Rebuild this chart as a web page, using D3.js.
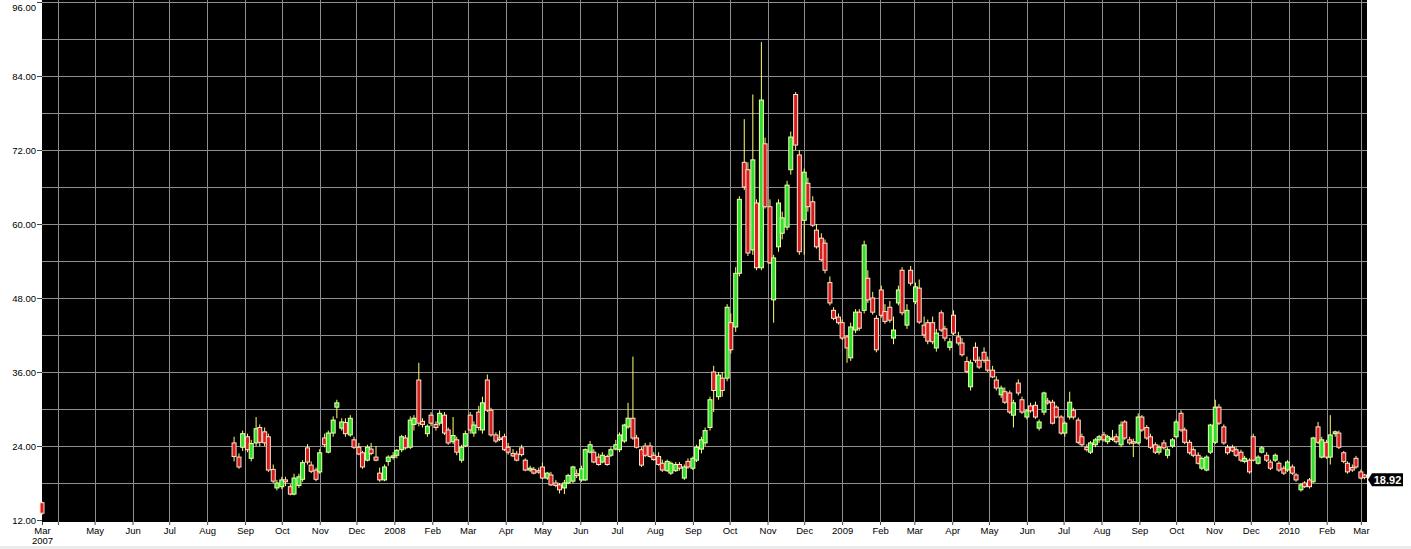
<!DOCTYPE html>
<html><head><meta charset="utf-8">
<script src="https://cdn.jsdelivr.net/npm/d3@7"></script>
<style>html,body{margin:0;padding:0;background:#fff;overflow:hidden}</style>
</head><body><svg id="chart" width="1411" height="549"></svg>
<script>
// ---------- DATA ----------
const axisStart = "2007-03-19";
const axisEnd = "2010-03-06";
const dates = [
"2007-03-19",
"2007-08-23","2007-08-27","2007-08-30",
"2007-09-03","2007-09-06","2007-09-10","2007-09-13","2007-09-17","2007-09-20","2007-09-24","2007-09-27",
"2007-10-01","2007-10-04","2007-10-08","2007-10-11","2007-10-15","2007-10-18","2007-10-22","2007-10-25","2007-10-29",
"2007-11-01","2007-11-05","2007-11-08","2007-11-12","2007-11-15","2007-11-19","2007-11-22","2007-11-26","2007-11-29",
"2007-12-03","2007-12-06","2007-12-10","2007-12-13","2007-12-17","2007-12-20","2007-12-24","2007-12-27","2007-12-31",
"2008-01-03","2008-01-07","2008-01-10","2008-01-14","2008-01-17","2008-01-21","2008-01-24","2008-01-28","2008-01-31",
"2008-02-04","2008-02-07","2008-02-11","2008-02-14","2008-02-18","2008-02-21","2008-02-25","2008-02-28",
"2008-03-03","2008-03-06","2008-03-10","2008-03-13","2008-03-17","2008-03-20","2008-03-24","2008-03-27","2008-03-31",
"2008-04-03","2008-04-07","2008-04-10","2008-04-14","2008-04-17","2008-04-21","2008-04-24","2008-04-28",
"2008-05-01","2008-05-05","2008-05-08","2008-05-12","2008-05-15","2008-05-19","2008-05-22","2008-05-26","2008-05-29",
"2008-06-02","2008-06-05","2008-06-09","2008-06-12","2008-06-16","2008-06-19","2008-06-23","2008-06-26","2008-06-30",
"2008-07-03","2008-07-07","2008-07-10","2008-07-14","2008-07-17","2008-07-21","2008-07-24","2008-07-28","2008-07-31",
"2008-08-04","2008-08-07","2008-08-11","2008-08-14","2008-08-18","2008-08-21","2008-08-25","2008-08-28",
"2008-09-01","2008-09-04","2008-09-08","2008-09-11","2008-09-15","2008-09-18","2008-09-22","2008-09-25","2008-09-29",
"2008-10-02","2008-10-06","2008-10-09","2008-10-13","2008-10-16","2008-10-20","2008-10-23","2008-10-27","2008-10-30",
"2008-11-03","2008-11-06","2008-11-10","2008-11-13","2008-11-17","2008-11-20","2008-11-24","2008-11-27",
"2008-12-01","2008-12-04","2008-12-08","2008-12-11","2008-12-15","2008-12-18","2008-12-22","2008-12-25","2008-12-29",
"2009-01-01","2009-01-05","2009-01-08","2009-01-12","2009-01-15","2009-01-19","2009-01-22","2009-01-26","2009-01-29",
"2009-02-02","2009-02-05","2009-02-09","2009-02-12","2009-02-16","2009-02-19","2009-02-23","2009-02-26",
"2009-03-02","2009-03-05","2009-03-09","2009-03-12","2009-03-16","2009-03-19","2009-03-23","2009-03-26","2009-03-30",
"2009-04-02","2009-04-06","2009-04-09","2009-04-13","2009-04-16","2009-04-20","2009-04-23","2009-04-27","2009-04-30",
"2009-05-04","2009-05-07","2009-05-11","2009-05-14","2009-05-18","2009-05-21","2009-05-25","2009-05-28",
"2009-06-01","2009-06-04","2009-06-08","2009-06-11","2009-06-15","2009-06-18","2009-06-22","2009-06-25","2009-06-29",
"2009-07-02","2009-07-06","2009-07-09","2009-07-13","2009-07-16","2009-07-20","2009-07-23","2009-07-27","2009-07-30",
"2009-08-03","2009-08-06","2009-08-10","2009-08-13","2009-08-17","2009-08-20","2009-08-24","2009-08-27","2009-08-31",
"2009-09-03","2009-09-07","2009-09-10","2009-09-14","2009-09-17","2009-09-21","2009-09-24","2009-09-28",
"2009-10-01","2009-10-05","2009-10-08","2009-10-12","2009-10-15","2009-10-19","2009-10-22","2009-10-26","2009-10-29",
"2009-11-02","2009-11-05","2009-11-09","2009-11-12","2009-11-16","2009-11-19","2009-11-23","2009-11-26","2009-11-30",
"2009-12-03","2009-12-07","2009-12-10","2009-12-14","2009-12-17","2009-12-21","2009-12-24","2009-12-28","2009-12-31",
"2010-01-04","2010-01-07","2010-01-11","2010-01-14","2010-01-18","2010-01-21","2010-01-25","2010-01-28",
"2010-02-01","2010-02-04","2010-02-08","2010-02-11","2010-02-15","2010-02-18","2010-02-22","2010-02-25",
"2010-03-01","2010-03-04"
];
const opens = [
14.8,
24.5,22.2,23.8,
25.5,22.0,24.5,27.0,26.3,25.5,20.2,17.2,
17.4,18.5,17.4,16.2,17.6,18.6,23.7,20.9,20.1,
19.8,25.3,23.0,26.1,30.3,26.9,27.8,25.8,25.0,
23.8,22.9,21.7,23.5,22.2,19.6,18.5,21.5,22.3,
22.5,23.4,25.3,23.8,27.5,34.7,28.0,26.0,29.0,
27.5,27.7,29.0,26.6,24.7,25.0,21.7,24.0,
29.0,26.1,29.5,26.6,34.7,29.8,25.8,25.3,25.5,
23.8,22.8,22.7,23.7,21.7,20.1,20.2,20.0,
20.6,18.8,19.3,18.0,17.7,17.2,18.0,18.3,19.5,
18.5,18.5,23.0,23.0,22.2,21.4,22.3,22.5,23.5,
23.4,24.8,27.1,28.5,25.3,23.4,24.0,24.0,22.5,
22.3,21.2,20.0,19.6,20.0,21.0,18.8,21.5,
20.4,21.7,23.5,24.5,27.0,36.0,32.0,35.0,35.0,
44.0,43.3,52.0,70.0,68.8,55.8,63.4,52.9,73.0,
62.8,47.7,56.3,58.5,59.5,68.8,81.0,71.2,
60.6,66.6,63.6,59.0,57.7,56.9,50.5,46.0,44.9,
44.0,41.7,38.3,42.8,45.7,46.0,51.2,48.0,44.7,
49.3,45.8,46.5,41.5,47.2,52.5,43.6,52.5,
47.4,49.6,43.6,44.0,44.0,39.9,45.6,43.0,40.0,
45.2,41.7,40.7,37.7,33.6,40.0,37.9,39.2,37.9,
36.3,34.7,32.3,32.8,32.6,29.0,34.2,31.5,
28.7,30.5,30.6,26.9,29.5,31.3,31.1,30.3,28.7,
26.1,28.7,29.8,28.2,25.5,23.8,23.0,24.2,25.0,
25.8,24.7,25.1,25.5,24.2,27.9,25.0,24.7,24.5,
28.7,27.0,25.5,24.2,23.0,24.5,22.5,24.0,
25.5,29.3,26.6,24.6,23.4,22.5,20.4,20.1,23.0,
24.6,30.3,27.1,23.8,23.8,23.4,23.0,21.5,21.7,
25.5,21.2,23.0,22.5,21.4,21.7,21.2,20.4,20.1,
20.6,19.3,16.9,18.0,18.5,18.2,27.1,22.2,
24.6,22.2,26.0,26.1,22.9,21.2,20.5,22.0,
19.8,19.3
];
const highs = [
15.0,
25.5,22.8,26.5,
26.0,25.0,28.7,27.5,27.0,26.0,21.0,18.5,
19.0,19.0,17.8,19.5,19.5,21.7,24.3,21.5,20.5,
23.5,26.0,26.5,28.8,31.5,28.5,28.5,29.0,25.5,
24.5,23.2,24.2,24.5,24.0,20.5,21.0,22.5,23.0,
23.5,25.8,25.8,28.8,29.0,37.5,28.5,27.5,29.5,
28.0,29.8,29.5,27.0,28.7,25.5,24.2,26.5,
29.5,28.0,30.5,32.0,35.6,30.2,26.2,26.5,26.0,
24.5,23.5,23.2,24.2,22.0,20.8,20.6,20.5,
21.3,19.8,19.8,18.5,18.0,18.5,19.5,20.8,20.2,
20.8,23.6,24.8,23.5,22.8,23.0,22.6,23.8,25.0,
26.2,27.6,31.0,38.5,25.8,23.8,24.5,24.6,23.0,
23.0,21.8,21.8,21.5,21.4,21.4,21.0,22.0,
22.3,24.2,25.5,27.0,32.0,37.0,36.0,36.0,47.0,
45.5,53.0,64.5,77.0,70.0,81.0,64.0,89.5,74.0,
64.0,55.0,64.0,62.0,67.0,75.0,81.4,72.0,
69.0,67.5,64.5,60.0,58.5,57.5,51.5,46.5,45.5,
44.5,42.0,44.0,46.2,46.2,57.3,52.5,49.0,45.2,
50.0,47.0,47.5,45.0,50.0,53.0,47.0,53.2,
50.5,51.0,45.0,44.5,45.0,43.0,46.0,43.5,41.5,
46.0,42.5,41.5,38.5,38.0,40.8,38.5,40.0,38.5,
37.0,35.3,33.8,33.5,33.0,31.5,34.8,32.0,
30.0,31.0,31.2,28.3,32.8,31.8,31.5,30.6,29.0,
28.0,32.8,30.2,28.6,26.0,24.3,24.8,25.3,25.8,
26.3,25.8,26.6,26.0,28.0,28.2,25.5,25.2,29.3,
29.0,27.4,26.0,24.6,24.2,25.0,23.8,25.3,
28.3,29.8,27.0,25.0,23.8,23.0,22.3,22.5,27.6,
31.5,30.8,27.5,24.2,24.2,23.8,23.4,22.4,22.0,
26.0,22.5,24.0,23.0,21.8,22.8,21.5,20.8,21.7,
21.0,19.6,18.0,18.3,18.8,25.5,27.9,25.5,
25.0,29.0,26.5,26.5,23.2,21.5,21.0,22.4,
20.2,19.5
];
const lows = [
12.8,
21.5,20.3,23.2,
23.0,21.5,24.0,24.0,24.0,19.8,18.0,16.8,
17.0,17.5,16.0,16.0,17.2,18.2,21.0,19.6,18.3,
19.5,23.8,22.8,25.5,28.5,26.5,25.5,25.5,23.5,
22.5,20.3,21.5,22.5,21.5,18.2,18.3,20.8,21.8,
22.0,23.0,23.4,23.5,26.5,27.2,27.0,25.5,27.2,
26.5,27.3,25.8,24.2,24.3,22.5,21.3,23.8,
26.0,25.5,26.5,26.0,29.5,25.5,24.5,24.8,23.2,
22.6,22.2,21.5,22.3,19.9,19.8,19.4,19.5,
18.6,18.5,17.5,17.3,16.3,16.2,17.8,18.0,18.8,
18.2,18.3,22.8,21.2,20.8,21.2,20.8,22.2,23.3,
23.0,24.5,26.8,25.0,23.6,20.6,22.2,22.1,21.6,
20.8,19.8,19.8,19.3,19.8,20.0,18.5,20.3,
20.1,21.4,22.8,24.0,26.5,29.5,31.5,32.0,34.5,
39.0,42.5,51.5,65.5,54.8,55.0,52.5,52.5,62.5,
53.5,44.0,55.5,57.5,59.0,68.0,72.0,55.0,
55.0,62.0,59.5,56.0,54.0,52.0,46.8,44.4,43.7,
41.2,37.5,37.8,42.3,42.7,45.5,47.2,45.3,39.2,
44.8,43.8,44.0,40.5,46.8,45.2,43.0,50.0,
47.0,43.8,41.5,40.5,40.5,39.3,42.5,41.0,39.5,
42.0,40.3,38.5,35.8,33.0,37.5,36.5,37.5,36.0,
35.0,33.0,31.8,30.8,29.2,27.0,32.2,29.2,
28.3,29.4,28.4,26.5,29.0,30.7,27.5,28.5,25.8,
25.5,28.3,28.3,24.3,23.9,23.1,22.7,23.8,24.5,
24.7,24.3,24.8,24.4,23.8,25.0,24.2,22.2,24.2,
26.3,25.0,23.5,22.7,22.6,23.4,22.0,23.7,
25.2,26.3,24.3,22.6,22.2,21.0,20.1,19.9,22.7,
24.3,27.4,24.2,22.6,23.0,22.2,21.4,21.2,19.5,
21.5,21.0,22.8,21.4,20.1,21.4,19.8,19.3,19.8,
19.3,18.2,16.6,17.2,17.1,18.0,24.3,22.0,
21.9,21.0,25.5,23.5,21.2,19.5,19.8,20.3,
18.6,18.6
];
const closes = [
13.1,
22.3,20.6,26.0,
23.4,24.4,26.8,24.6,24.5,20.1,18.3,18.0,
18.5,18.2,16.2,18.8,19.0,21.3,21.4,19.9,18.6,
22.9,24.2,26.1,28.2,31.0,27.9,26.0,28.5,23.8,
22.7,20.6,23.8,22.8,21.7,18.5,20.6,22.2,22.4,
23.3,25.5,23.7,28.2,28.5,27.7,27.5,27.2,27.7,
27.0,29.3,26.1,24.5,25.7,23.0,23.8,26.0,
26.6,27.4,27.0,31.0,29.8,25.8,24.8,25.1,23.4,
23.0,22.4,21.7,22.6,20.1,20.4,19.6,19.8,
18.8,19.6,17.7,17.6,16.9,18.0,19.2,20.6,19.2,
20.3,23.4,24.2,21.4,21.0,22.5,21.0,23.4,24.2,
25.8,27.4,28.5,25.3,23.8,20.9,22.5,22.3,21.8,
21.0,20.1,21.5,21.2,21.0,20.4,20.6,20.6,
22.0,23.8,25.0,26.5,31.5,33.0,35.5,33.0,46.5,
39.6,52.0,64.0,66.0,55.3,70.4,52.9,80.1,62.8,
53.7,54.5,63.4,61.0,66.3,74.1,72.8,55.5,
68.4,62.8,59.8,56.3,54.2,52.5,47.2,44.7,44.0,
41.5,39.9,43.3,45.7,43.1,56.6,47.7,45.7,39.6,
45.2,44.2,44.4,42.8,49.3,45.6,46.0,50.4,
49.8,44.1,42.0,41.0,40.9,42.3,42.8,41.5,40.9,
42.3,40.7,38.8,36.1,37.5,37.9,36.8,37.9,36.3,
35.2,33.4,33.4,31.1,29.5,31.0,32.6,29.5,
29.7,29.7,28.7,27.9,32.6,31.0,27.7,28.7,26.1,
27.7,31.1,28.7,24.6,24.2,23.4,24.5,25.0,25.5,
25.0,25.5,25.3,24.7,27.4,25.3,24.5,24.5,28.7,
26.6,25.3,23.8,23.0,23.8,23.7,23.4,25.0,
27.9,26.6,24.6,22.9,22.5,21.2,22.0,22.2,27.4,
30.3,27.7,24.5,22.9,23.2,22.5,21.7,22.0,19.8,
21.7,22.2,23.7,21.7,20.4,22.5,20.1,19.6,21.4,
19.6,18.5,17.7,17.4,17.4,25.3,24.6,25.0,
22.2,25.8,26.3,23.8,21.5,19.8,20.1,20.6,
18.8,18.92
];
const yLabelValues = [12, 24, 36, 48, 60, 72, 84, 96];
const yGridValues = [18, 24, 30, 36, 42, 48, 54, 60, 66, 72, 78, 84, 90, 96];

// ---------- LAYOUT ----------
const FONT = "'Liberation Sans', Arial, sans-serif";
const plotL = 42, plotR = 1367, plotT = 0, plotB = 522;
const parse = d3.timeParse("%Y-%m-%d");
const svg = d3.select("#chart");

const x = d3.scaleTime().domain([parse(axisStart), parse(axisEnd)]).range([plotL, plotR]);
const y = d3.scaleLinear().domain([12, 96]).range([520, 2]);

svg.append("rect").attr("x", 0).attr("y", 546).attr("width", 1411).attr("height", 3).attr("fill", "#ebebeb");
svg.append("rect").attr("x", plotL).attr("y", plotT).attr("width", plotR - plotL).attr("height", plotB - plotT).attr("fill", "#000");

const monthTicks = d3.timeMonth.range(d3.timeMonth.ceil(parse(axisStart)), parse(axisEnd));

// grid
const grid = svg.append("g").attr("stroke", "#8e8e8e").attr("stroke-width", 1).attr("shape-rendering", "crispEdges");
grid.selectAll("line.h").data(yGridValues).join("line").attr("class", "h")
  .attr("x1", plotL).attr("x2", plotR).attr("y1", d => Math.round(y(d)) + 0.5).attr("y2", d => Math.round(y(d)) + 0.5);
grid.selectAll("line.v").data(monthTicks).join("line").attr("class", "v")
  .attr("x1", d => Math.round(x(d)) + 0.5).attr("x2", d => Math.round(x(d)) + 0.5).attr("y1", plotT).attr("y2", plotB);

// y axis
const yAxis = svg.append("g").attr("transform", `translate(${plotL},0)`)
  .call(d3.axisLeft(y).tickValues(yLabelValues).tickSize(5).tickPadding(1).tickFormat(d3.format(".2f")));
yAxis.select(".domain").remove();
yAxis.selectAll("line").attr("stroke", "#444");
yAxis.selectAll("text").attr("font-family", FONT).attr("font-size", "9.5px").attr("fill", "#000");
// keep the top label inside the picture
yAxis.selectAll(".tick").filter(d => d === 96).select("text").attr("dy", "0.85em");

// x axis
const xTickVals = [parse(axisStart)].concat(monthTicks);
let lastLabelX = -100;
const labelFor = new Map();
xTickVals.forEach((d, i) => {
  const px = x(d);
  let t = "";
  if (px - lastLabelX > 25) {
    t = (i > 0 && d.getMonth() === 0) ? d3.timeFormat("%Y")(d) : d3.timeFormat("%b")(d);
    lastLabelX = px;
  }
  labelFor.set(+d, t);
});
const xAxis = svg.append("g").attr("transform", `translate(0,${plotB})`)
  .call(d3.axisBottom(x).tickValues(xTickVals).tickSize(3).tickPadding(2).tickFormat(d => labelFor.get(+d)));
xAxis.select(".domain").remove();
xAxis.selectAll("line").attr("stroke", "#444");
xAxis.selectAll("text").attr("font-family", FONT).attr("font-size", "9.5px").attr("fill", "#000");
xAxis.selectAll(".tick").filter((d, i) => i === 0).select("text")
  .append("tspan").attr("x", 0).attr("dy", "1.05em").text(d3.timeFormat("%Y")(parse(axisStart)));

// candles
const idx = d3.range(dates.length);
const cg = svg.append("g");
cg.selectAll("line.wick").data(idx).join("line").attr("class", "wick")
  .attr("x1", i => x(parse(dates[i]))).attr("x2", i => x(parse(dates[i])))
  .attr("y1", i => y(highs[i])).attr("y2", i => y(lows[i]))
  .attr("stroke", "#ffff70").attr("stroke-width", 1);
cg.selectAll("rect.body").data(idx).join("rect").attr("class", "body")
  .attr("x", i => x(parse(dates[i])) - 2).attr("width", 4)
  .attr("y", i => y(Math.max(opens[i], closes[i])))
  .attr("height", i => Math.max(1.5, Math.abs(y(opens[i]) - y(closes[i]))))
  .attr("fill", i => closes[i] >= opens[i] ? "#2ee02e" : "#d81c1c")
  .attr("stroke", i => closes[i] >= opens[i] ? "#f2ffb0" : "#ffe2d2")
  .attr("stroke-width", 1);

// last value tag
const last = closes.length - 1;
const ly = y(closes[last]);
const tag = svg.append("g").attr("transform", `translate(${plotR},${ly})`);
tag.append("path").attr("d", "M1,2.5 L5,-4 L36,-4 L36,9 L5,9 Z").attr("fill", "#000");
tag.append("text").attr("x", 20.5).attr("y", 2.5).attr("dy", "0.36em").attr("text-anchor", "middle")
  .attr("font-family", FONT).attr("font-size", "11px").attr("font-weight", "bold").attr("fill", "#fff")
  .text(d3.format(".2f")(closes[last]));
</script>
</body></html>
